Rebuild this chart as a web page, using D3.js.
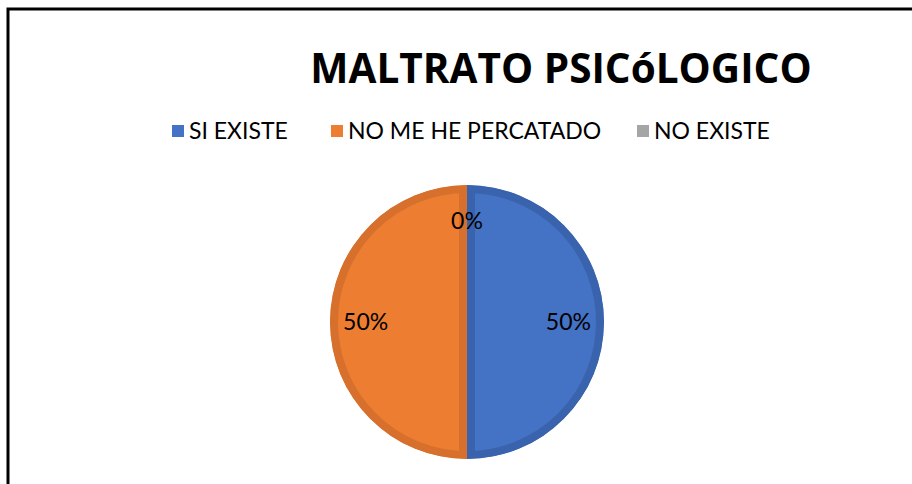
<!DOCTYPE html>
<html>
<head>
<meta charset="utf-8">
<script src="https://cdn.jsdelivr.net/npm/d3@7"></script>
<style>
  html, body { margin: 0; padding: 0; background: #fff; }
  svg { display: block; font-family: Lato, "Open Sans", sans-serif; }
</style>
</head>
<body>
<div id="chart"></div>
<script>
var title = "MALTRATO PSICóLOGICO";
var categories = ["SI EXISTE", "NO ME HE PERCATADO", "NO EXISTE"];
var values = [50, 50, 0];
var fills = ["#4472C4", "#ED7D31", "#A5A5A5"];
var edges = ["#3a63ae", "#d6702c", "#959595"];

var width = 912, height = 484;
var cx = 467, cy = 322, radius = 137, band = 8;

var svg = d3.select("#chart").append("svg")
    .attr("width", width)
    .attr("height", height);

// frame (only top and left edges show)
svg.append("path")
    .attr("d", "M8," + height + "V9H" + width)
    .attr("fill", "none")
    .attr("stroke", "#000")
    .attr("stroke-width", 3);

svg.append("text")
    .attr("x", 561)
    .attr("y", 83)
    .attr("text-anchor", "middle")
    .style("font-family", "'Open Sans', sans-serif")
    .style("font-weight", "bold")
    .style("font-size", "40.5px")
    .text(title);

// legend
var legendX = [172, 331, 637];
var legend = svg.append("g").attr("class", "legend");
var item = legend.selectAll("g").data(categories).enter().append("g")
    .attr("transform", function (d, i) { return "translate(" + legendX[i] + ",125)"; });
item.append("rect")
    .attr("width", 12).attr("height", 12)
    .attr("fill", function (d, i) { return fills[i]; });
item.append("text")
    .attr("x", 17)
    .attr("y", 14)
    .style("font-size", "23px")
    .text(function (d) { return d; });

var pie = d3.pie().sort(null).value(function (d) { return d; });
var arcs = pie(values);

var arc = d3.arc().innerRadius(0).outerRadius(radius);
var labelArc = d3.arc().innerRadius(radius * 0.74).outerRadius(radius * 0.74);

var g = svg.append("g").attr("transform", "translate(" + cx + "," + cy + ")");
var defs = svg.append("defs");

defs.selectAll("clipPath").data(arcs).enter().append("clipPath")
    .attr("id", function (d, i) { return "slice-clip-" + i; })
    .append("path")
    .attr("d", arc);

// each slice gets a darker inner edge band, clipped to the slice itself
g.selectAll(".slice").data(arcs).enter().append("path")
    .attr("class", "slice")
    .attr("d", arc)
    .attr("clip-path", function (d, i) { return "url(#slice-clip-" + i + ")"; })
    .attr("fill", function (d, i) { return fills[i]; })
    .attr("stroke", function (d, i) { return edges[i]; })
    .attr("stroke-width", 2 * band)
    .attr("stroke-linejoin", "miter");

g.selectAll(".lbl").data(arcs).enter().append("text")
    .attr("class", "lbl")
    .attr("transform", function (d) { return "translate(" + labelArc.centroid(d) + ")"; })
    .attr("text-anchor", "middle")
    .attr("dy", "0.35em")
    .style("font-size", "23px")
    .text(function (d) { return Math.round(d.value / d3.sum(values) * 100) + "%"; });
</script>
</body>
</html>
